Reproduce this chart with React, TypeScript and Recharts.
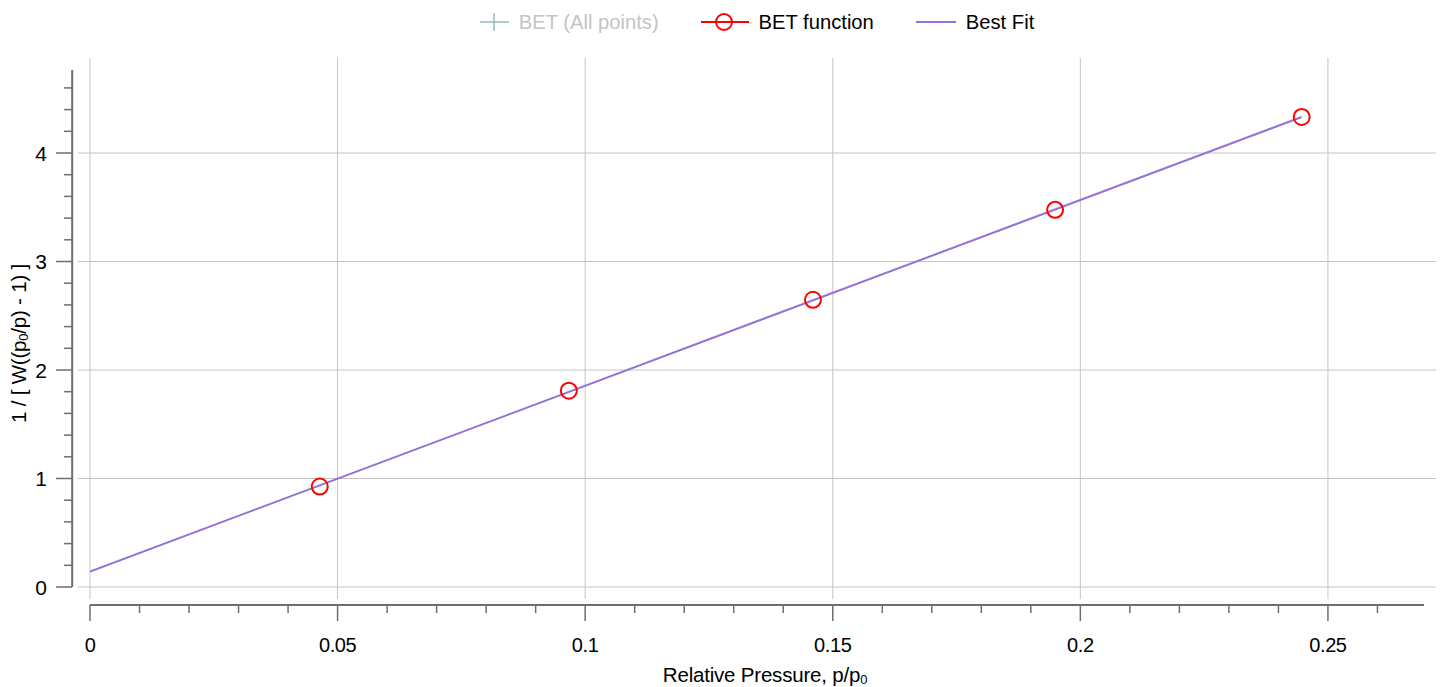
import React from 'react';
import { ComposedChart, Line, Scatter, XAxis, YAxis, ReferenceLine, Legend, Label } from 'recharts';

// ---- data ----
const betFunctionX = [0.0464, 0.0967, 0.146, 0.1949, 0.2447];
const betFunctionY = [0.926, 1.809, 2.647, 3.476, 4.332];
const bestFitX = [0, 0.2447];
const bestFitY = [0.143, 4.332];

// ---- axes / ticks ----
const xDomain = [0, 0.2694];
const yDomain = [0, 4.765];
const xMajorTicks = [0, 0.05, 0.1, 0.15, 0.2, 0.25];
const xMajorLabels = ['0', '0.05', '0.1', '0.15', '0.2', '0.25'];
const xMinorTicks = [0.01, 0.02, 0.03, 0.04, 0.06, 0.07, 0.08, 0.09, 0.11, 0.12, 0.13, 0.14, 0.16, 0.17, 0.18, 0.19, 0.21, 0.22, 0.23, 0.24, 0.26];
const yMajorTicks = [0, 1, 2, 3, 4];
const yMajorLabels = ['0', '1', '2', '3', '4'];
const yMinorTicks = [0.2, 0.4, 0.6, 0.8, 1.2, 1.4, 1.6, 1.8, 2.2, 2.4, 2.6, 2.8, 3.2, 3.4, 3.6, 3.8, 4.2, 4.4, 4.6];
const xAxisLineAtY = -0.166;
const yAxisLineAtX = -0.0036;

const legendItems = [
  { name: 'BET (All points)', color: '#8fbcbb', icon: 'cross', inactive: true },
  { name: 'BET function', color: '#ff0000', icon: 'circleLine', inactive: false },
  { name: 'Best Fit', color: '#9370db', icon: 'line', inactive: false },
];

const betData = betFunctionX.map((x, i) => ({ x, y: betFunctionY[i] }));
const fitData = bestFitX.map((x, i) => ({ x, y: bestFitY[i] }));
const xTicks = [...xMajorTicks, ...xMinorTicks].sort((a, b) => a - b);
const yTicks = [...yMajorTicks, ...yMinorTicks].sort((a, b) => a - b);

const FONT = "'Liberation Sans', Arial, Helvetica, sans-serif";
const AXIS = '#6e6e6e';
const GRID = '#c4c4c4';

const near = (a: number, b: number) => Math.abs(a - b) < 1e-9;

const XTick = (props: any) => {
  const { x, y, payload } = props;
  const v = payload.value;
  const mi = xMajorTicks.findIndex((t) => near(t, v));
  const major = mi >= 0;
  return (
    <g>
      <line x1={x} x2={x} y1={y + 6} y2={y + (major ? 22 : 14)} stroke={AXIS} strokeWidth={1.5} />
      {major && (
        <text x={x} y={y + 53} textAnchor="middle" fontSize={20} fontFamily={FONT} fill="#000" letterSpacing={-0.4}>
          {xMajorLabels[mi]}
        </text>
      )}
    </g>
  );
};

const YTick = (props: any) => {
  const { x, y, payload } = props;
  const v = payload.value;
  const mi = yMajorTicks.findIndex((t) => near(t, v));
  const major = mi >= 0;
  return (
    <g>
      <line x1={x - 6} x2={x - (major ? 22 : 14)} y1={y} y2={y} stroke={AXIS} strokeWidth={1.5} />
      {major && (
        <text x={x - 31} y={y + 7.5} textAnchor="end" fontSize={21} fontFamily={FONT} fill="#000">
          {yMajorLabels[mi]}
        </text>
      )}
    </g>
  );
};

const XTitle = (props: any) => {
  const vb = props.viewBox || {};
  return (
    <text x={vb.x + vb.width / 2 + 8} y={vb.y + 83} textAnchor="middle" fontSize={20.5} fontFamily={FONT} fill="#000" letterSpacing={-0.2}>
      Relative Pressure, p/p
      <tspan fontSize={13} dy={2}>0</tspan>
    </text>
  );
};

const YTitle = (props: any) => {
  const vb = props.viewBox || {};
  const cx = vb.x + 26;
  const cy = vb.y + vb.height / 2 + 15;
  return (
    <text x={cx} y={cy} transform={`rotate(-90 ${cx} ${cy})`} textAnchor="middle" fontSize={20.5} fontFamily={FONT} fill="#000" letterSpacing={-0.2}>
      1 / [ W((p
      <tspan fontSize={13} dy={2}>0</tspan>
      <tspan dy={-2}>/p) - 1) ]</tspan>
    </text>
  );
};

const LegendIcon = ({ icon, color }: { icon: string; color: string }) => {
  if (icon === 'cross') {
    return (
      <svg width={29} height={20} style={{ display: 'block' }}>
        <line x1={0} x2={29} y1={10} y2={10} stroke={color} strokeWidth={1.5} />
        <line x1={14} x2={14} y1={1} y2={19} stroke={color} strokeWidth={1.5} />
      </svg>
    );
  }
  if (icon === 'circleLine') {
    return (
      <svg width={48} height={20} style={{ display: 'block' }}>
        <line x1={0} x2={48} y1={10} y2={10} stroke={color} strokeWidth={2} />
        <circle cx={23} cy={10} r={8} stroke={color} strokeWidth={2} fill="none" />
      </svg>
    );
  }
  return (
    <svg width={40} height={20} style={{ display: 'block' }}>
      <line x1={0} x2={40} y1={10} y2={10} stroke={color} strokeWidth={2} />
    </svg>
  );
};

const renderLegend = () => (
  <div
    style={{
      height: 58,
      marginLeft: 78,
      width: 1358,
      display: 'flex',
      justifyContent: 'center',
      alignItems: 'flex-start',
      paddingTop: 11,
      boxSizing: 'border-box',
      fontFamily: FONT,
      fontSize: 20.2,
      letterSpacing: 0,
    }}
  >
    {legendItems.map((it, i) => (
      <div key={it.name} style={{ display: 'flex', alignItems: 'center', marginLeft: i === 0 ? 0 : 42, height: 22 }}>
        <LegendIcon icon={it.icon} color={it.color} />
        <span style={{ marginLeft: 10, color: it.inactive ? '#c4c4c4' : '#000', lineHeight: '22px', whiteSpace: 'nowrap' }}>{it.name}</span>
      </div>
    ))}
  </div>
);

const RedCircle = (props: any) => {
  const { cx, cy } = props;
  return <circle cx={cx} cy={cy} r={8} stroke="#ff0000" strokeWidth={2} fill="none" />;
};

export default function App() {
  return (
    <div style={{ position: 'absolute', left: 0, top: 0, width: 1441, height: 687, background: '#fff', fontFamily: FONT }}>
      <ComposedChart width={1441} height={687} margin={{ top: 0, right: 5, bottom: 0, left: 0 }}>
        <Legend verticalAlign="top" content={renderLegend} wrapperStyle={{ left: 0, top: 0, width: 1441, height: 58 }} />
        <XAxis
          type="number"
          dataKey="x"
          domain={xDomain}
          ticks={xTicks}
          interval={0}
          padding={{ left: 12, right: 12 }}
          height={88}
          axisLine={false}
          tickLine={false}
          tickSize={0}
          tickMargin={0}
          tick={<XTick />}
          allowDataOverflow
        >
          <Label content={<XTitle />} />
        </XAxis>
        <YAxis
          type="number"
          dataKey="y"
          domain={yDomain}
          ticks={yTicks}
          interval={0}
          padding={{ top: 12, bottom: 12 }}
          width={78}
          axisLine={false}
          tickLine={false}
          tickSize={0}
          tickMargin={0}
          tick={<YTick />}
          allowDataOverflow
        >
          <Label content={<YTitle />} />
        </YAxis>
        {xMajorTicks.map((t) => (
          <ReferenceLine key={'gx' + t} x={t} stroke={GRID} strokeWidth={1} ifOverflow="visible" />
        ))}
        {yMajorTicks.map((t) => (
          <ReferenceLine key={'gy' + t} y={t} stroke={GRID} strokeWidth={1} ifOverflow="visible" />
        ))}
        <ReferenceLine
          segment={[{ x: xDomain[0], y: xAxisLineAtY }, { x: xDomain[1], y: xAxisLineAtY }]}
          stroke={AXIS}
          strokeWidth={2}
          ifOverflow="visible"
        />
        <ReferenceLine
          segment={[{ x: yAxisLineAtX, y: yDomain[0] }, { x: yAxisLineAtX, y: yDomain[1] }]}
          stroke={AXIS}
          strokeWidth={2}
          ifOverflow="visible"
        />
        <Line
          data={fitData}
          dataKey="y"
          name="Best Fit"
          stroke="#9370db"
          strokeWidth={2}
          dot={false}
          activeDot={false}
          isAnimationActive={false}
          type="linear"
        />
        <Scatter data={betData} dataKey="y" name="BET function" shape={<RedCircle />} isAnimationActive={false} />
      </ComposedChart>
    </div>
  );
}
